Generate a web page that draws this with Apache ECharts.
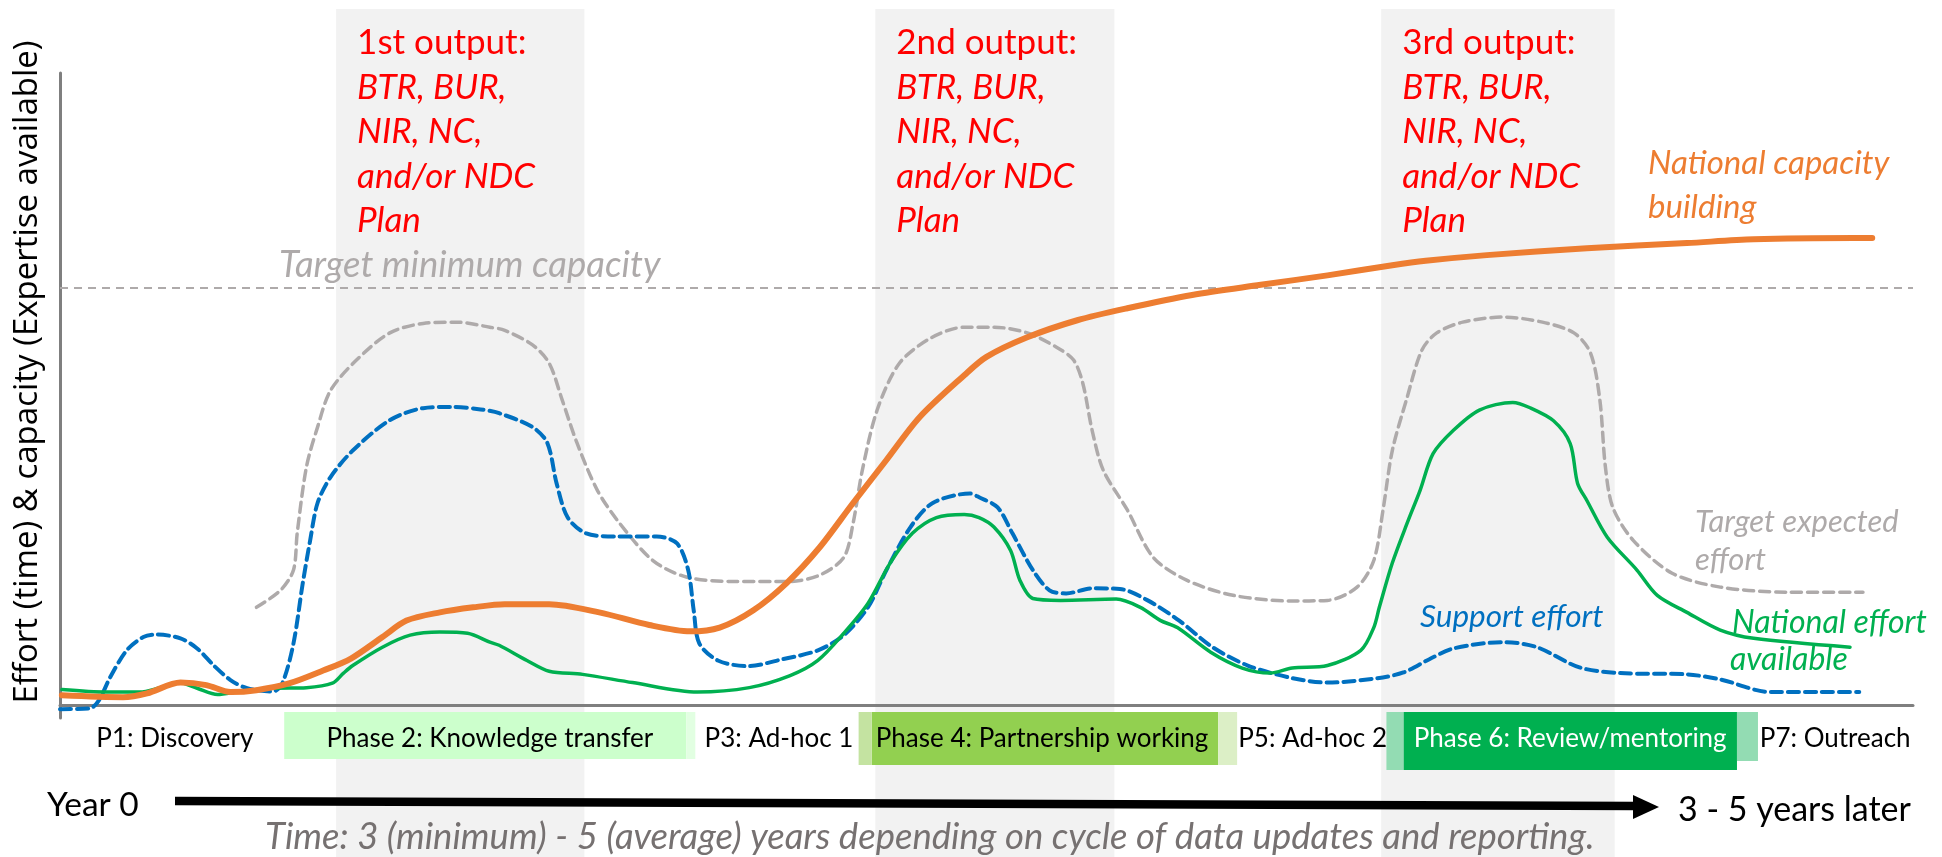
<!DOCTYPE html>
<html>
<head>
<meta charset="utf-8">
<title>Effort and capacity over the reporting cycle</title>
<script src="https://cdn.jsdelivr.net/npm/echarts@6/dist/echarts.min.js"></script>
<style>
  html, body { margin: 0; padding: 0; background: #fff; }
  #chart { width: 1942px; height: 857px; }
</style>
</head>
<body>
<div id="chart"></div>
<script>
// x = share of the 3-5 year cycle (0-100), y = effort / capacity (0-100)
var targetMinimum = 66;

var targetExpected = [
  [10.6, 15.5], [11.9, 18.2], [12.6, 21.4], [12.8, 27.2], [13.3, 37.7], [13.9, 44.0], [14.6, 49.8],
  [16.0, 54.6], [17.8, 58.9], [19.6, 60.4], [21.4, 60.6], [23.2, 59.8], [24.0, 59.3], [25.5, 57.0],
  [26.4, 54.1], [27.1, 48.3], [27.9, 41.5], [29.0, 34.0], [30.2, 28.8], [32.0, 22.9], [33.8, 20.3],
  [36.3, 19.6], [39.4, 19.6], [41.0, 20.6], [42.3, 23.4], [42.8, 28.8], [43.3, 37.2], [44.1, 46.7],
  [45.3, 54.1], [47.0, 58.1], [48.8, 59.8], [50.4, 59.8], [52.2, 58.9], [53.8, 56.6], [54.7, 54.6],
  [55.2, 50.9], [55.7, 43.5], [56.3, 37.2], [57.6, 30.9], [59.0, 23.4], [60.8, 19.8], [63.3, 17.4],
  [66.5, 16.5], [68.4, 16.6], [70.0, 18.7], [70.9, 22.9], [71.4, 30.9], [71.9, 40.3], [72.7, 48.7],
  [73.5, 56.2], [74.3, 58.9], [75.7, 60.6], [77.9, 61.4], [80.0, 60.6], [81.7, 58.9], [82.6, 55.7],
  [83.1, 48.3], [83.4, 37.7], [83.8, 31.3], [84.9, 26.1], [87.0, 20.9], [89.6, 18.7], [93.2, 17.9],
  [97.3, 17.9]
];

var supportEffort = [
  [0.0, -0.6], [1.6, -0.5], [2.1, 0.8], [2.7, 4.4], [3.6, 8.7], [4.5, 10.8], [5.2, 11.2], [6.5, 10.6],
  [7.4, 9.0], [8.3, 6.3], [9.2, 4.0], [10.1, 2.7], [11.5, 2.2], [12.0, 3.5], [12.6, 9.8], [13.1, 19.3],
  [13.5, 26.1], [13.9, 32.0], [14.6, 36.1], [15.8, 40.3], [17.8, 45.1], [19.6, 47.0], [21.2, 47.2],
  [22.7, 46.8], [23.7, 46.2], [25.5, 44.0], [26.3, 41.5], [26.8, 35.1], [27.4, 29.7], [28.4, 27.2],
  [30.1, 26.7], [32.2, 26.7], [33.3, 25.6], [33.9, 21.4], [34.2, 15.0], [34.5, 9.8], [35.5, 7.1],
  [37.1, 6.2], [39.0, 7.3], [40.9, 8.7], [42.3, 11.1], [43.6, 15.5], [44.6, 21.4], [45.9, 28.2],
  [47.1, 32.0], [49.1, 33.5], [49.6, 32.9], [50.6, 31.3], [51.4, 27.2], [52.5, 21.4], [53.4, 18.2],
  [54.3, 17.7], [55.7, 18.5], [57.2, 18.4], [58.7, 16.6], [60.4, 13.4], [62.2, 9.2], [64.1, 6.3],
  [66.5, 4.3], [68.4, 3.6], [71.1, 4.3], [72.5, 5.2], [73.9, 7.3], [75.2, 9.0], [77.9, 10.0],
  [79.7, 9.2], [82.0, 6.0], [84.2, 5.1], [87.8, 4.9], [89.6, 4.1], [92.3, 2.1], [95.0, 2.1], [97.1, 2.1]
];

var nationalCapacity = [
  [0.1, 1.6], [3.4, 1.3], [4.7, 1.9], [6.5, 3.6], [7.9, 3.2], [9.2, 2.1], [10.6, 2.4], [12.4, 3.5],
  [14.2, 5.5], [15.7, 7.4], [17.4, 10.8], [18.7, 13.4], [20.5, 14.7], [22.3, 15.5], [24.0, 16.0],
  [26.4, 16.0], [29.1, 14.7], [31.8, 12.7], [34.0, 11.7], [35.6, 12.3], [37.4, 15.0], [39.2, 19.3],
  [41.0, 25.0], [42.8, 32.0], [44.6, 38.8], [46.4, 45.6], [48.8, 52.2], [50.0, 55.1], [52.2, 58.2],
  [54.9, 60.9], [57.6, 62.8], [61.1, 64.9], [64.8, 66.5], [68.4, 68.0], [71.9, 69.6], [73.7, 70.3],
  [77.0, 71.2], [82.4, 72.3], [87.8, 73.1], [91.4, 73.7], [96.8, 73.9], [97.8, 73.9]
];

var nationalEffort = [
  [0.1, 2.5], [2.5, 2.1], [4.3, 2.1], [5.4, 2.8], [6.4, 3.6], [7.4, 2.7], [8.5, 1.7], [9.7, 2.2],
  [11.5, 2.7], [13.3, 2.8], [14.7, 3.5], [15.3, 5.1], [15.8, 6.3], [17.4, 9.2], [18.9, 11.1],
  [20.5, 11.6], [22.0, 11.4], [23.2, 10.0], [23.7, 9.5], [25.2, 7.1], [26.4, 5.4], [28.2, 4.9],
  [30.9, 3.6], [34.4, 2.1], [37.2, 2.8], [39.4, 4.7], [40.9, 7.1], [42.3, 11.4], [43.6, 16.1],
  [44.8, 22.5], [46.0, 27.2], [47.3, 29.7], [48.8, 30.2], [49.6, 29.7], [50.4, 28.2], [51.3, 24.5],
  [51.8, 19.8], [52.5, 16.9], [54.0, 16.6], [57.0, 16.8], [58.3, 15.5], [59.4, 13.4], [60.3, 12.3],
  [62.1, 8.4], [63.8, 5.9], [65.3, 5.1], [66.5, 5.9], [68.4, 6.3], [70.2, 8.7], [70.9, 12.3],
  [71.2, 15.5], [71.9, 22.5], [72.7, 28.8], [73.4, 34.0], [74.1, 39.8], [75.2, 43.5], [76.6, 46.7],
  [78.4, 47.9], [79.3, 47.1], [80.6, 45.0], [81.5, 41.4], [81.9, 35.1], [82.4, 32.4], [83.5, 26.6],
  [85.1, 21.4], [86.2, 17.4], [87.8, 14.7], [89.6, 11.9], [91.4, 10.6], [96.6, 9.2]
];

// reporting windows (grey bands) and what is delivered in each
var outputBands = [[14.9, 28.3], [44.0, 56.9], [71.3, 83.9]];
var outputTitles = ['1st output:', '2nd output:', '3rd output:'];
var outputLines = ['BTR, BUR,', 'NIR, NC,', 'and/or NDC', 'Plan'];

// phases along the time axis
var phaseLabels = ['P1: Discovery', 'Phase 2: Knowledge transfer', 'P3: Ad-hoc 1',
  'Phase 4: Partnership working', 'P5: Ad-hoc 2', 'Phase 6: Review/mentoring', 'P7: Outreach'];
var phaseCenters = [6.2, 23.2, 38.8, 53.0, 67.6, 81.5, 95.8];
var phaseSpans = [[12.1, 33.8], [43.8, 62.5], [72.5, 90.5]];

var FONT = 'Lato';

var chart = echarts.init(document.getElementById('chart'));

function lineSeries(name, data, color, width, dash, z) {
  return {
    name: name,
    type: 'line',
    data: data,
    smooth: 0.3,
    symbol: 'none',
    z: z,
    lineStyle: { color: color, width: width, type: dash || 'solid', cap: 'round', join: 'round' }
  };
}

var targetSeries = lineSeries('Target expected effort', targetExpected, '#aeaaaa', 3.5, [10, 6], 2);
targetSeries.markLine = {
  silent: true,
  symbol: ['none', 'none'],
  label: { show: false },
  lineStyle: { color: '#aeaaaa', width: 2, type: [8, 6] },
  data: [{ yAxis: targetMinimum }]
};

chart.setOption({
  animation: false,
  grid: { left: 60, right: 29, top: 73, bottom: 139 },
  xAxis: {
    type: 'value', min: 0, max: 100,
    axisLine: { show: true, onZero: true, lineStyle: { color: '#7f7f7f', width: 3 } },
    axisTick: { show: false }, axisLabel: { show: false }, splitLine: { show: false }
  },
  yAxis: {
    type: 'value', min: -2, max: 100,
    axisLine: { show: true, onZero: false, lineStyle: { color: '#7f7f7f', width: 3 } },
    axisTick: { show: false }, axisLabel: { show: false }, splitLine: { show: false }
  },
  series: [
    targetSeries,
    lineSeries('Support effort', supportEffort, '#0070c0', 4, [11, 6], 3),
    lineSeries('National effort available', nationalEffort, '#00b050', 3.5, null, 4),
    lineSeries('National capacity building', nationalCapacity, '#ed7d31', 6, null, 5)
  ]
});

function px(x, y) { return chart.convertToPixel({ gridIndex: 0 }, [x, y]); }

function label(text, x, y, size, color, italic, align) {
  return {
    type: 'text', x: x, y: y, z: 20, silent: true,
    style: {
      text: text, fill: color, fontSize: size, fontFamily: FONT,
      fontStyle: italic ? 'italic' : 'normal',
      align: align || 'left', verticalAlign: 'middle'
    }
  };
}

var g = [];

// grey bands behind everything
outputBands.forEach(function (b, i) {
  var l = px(b[0], 0)[0], r = px(b[1], 0)[0];
  g.push({ type: 'rect', z: -10, silent: true,
    shape: { x: l, y: 9, width: r - l, height: 848 }, style: { fill: '#f2f2f2' } });
  g.push(label(outputTitles[i], l + 21, 43, 35, '#ff0000', false));
  outputLines.forEach(function (t, j) {
    g.push(label(t, l + 21, 43 + 44.5 * (j + 1), 35, '#ff0000', true));
  });
});

// phase boxes
var boxFill = ['#ccffcc', '#92d050', '#00b050'];
var boxEdge = ['#e2ffe2', '#c4e3a1', '#93dcb3'];
var boxEdgeR = ['#e2ffe2', '#dcefc6', '#93dcb3'];
var boxLeftFade = [0, 13, 17];
var boxRightFade = [9, 19, 21];
var boxBottom = [759, 765, 770];
phaseSpans.forEach(function (s, i) {
  var l = px(s[0], 0)[0], r = px(s[1], 0)[0];
  var h = boxBottom[i] - 712;
  g.push({ type: 'rect', z: -5, silent: true, shape: { x: l, y: 712, width: r - l, height: h },
    style: { fill: boxFill[i] } });
  if (boxLeftFade[i]) {
    g.push({ type: 'rect', z: -5, silent: true,
      shape: { x: l - boxLeftFade[i], y: 712, width: boxLeftFade[i], height: h },
      style: { fill: boxEdge[i] } });
  }
  g.push({ type: 'rect', z: -5, silent: true,
    shape: { x: r, y: 712, width: boxRightFade[i], height: h - (i === 2 ? 9 : 0) },
    style: { fill: boxEdgeR[i] } });
});
phaseLabels.forEach(function (t, i) {
  g.push(label(t, px(phaseCenters[i], 0)[0], 739, 26, i === 5 ? '#ffffff' : '#000000', false, 'center'));
});

// curve annotations
g.push(label('Target minimum capacity', 279, 265, 36.5, '#aeaaaa', true));
g.push(label('National capacity', 1648, 163, 33, '#ed7d31', true));
g.push(label('building', 1648, 207, 33, '#ed7d31', true));
g.push(label('Target expected', 1695, 522, 31, '#aeaaaa', true));
g.push(label('effort', 1695, 560, 31, '#aeaaaa', true));
g.push(label('Support effort', 1420, 617, 31.5, '#0070c0', true));
g.push(label('National effort', 1732, 623, 32, '#00b050', true));
g.push(label('available', 1730, 660, 32, '#00b050', true));

// y axis title
g.push({ type: 'text', x: 28, y: 372, rotation: Math.PI / 2, z: 20, silent: true,
  style: { text: 'Effort (time) & capacity (Expertise available)', fill: '#000', fontSize: 33,
    fontFamily: 'Open Sans', align: 'center', verticalAlign: 'middle' } });

// time arrow
g.push({ type: 'line', z: 20, silent: true, shape: { x1: 175, y1: 801, x2: 1636, y2: 806 },
  style: { stroke: '#000', lineWidth: 8.5 } });
g.push({ type: 'polygon', z: 20, silent: true,
  shape: { points: [[1633, 795], [1659, 807], [1633, 819]] }, style: { fill: '#000' } });
g.push(label('Year 0', 47, 805, 33.5, '#000', false));
g.push(label('3 - 5 years later', 1678, 810, 34, '#000', false));
g.push(label('Time: 3 (minimum) - 5 (average) years depending on cycle of data updates and reporting.',
  265, 837, 36.5, '#767171', true));

chart.setOption({ graphic: g });
</script>
</body>
</html>
